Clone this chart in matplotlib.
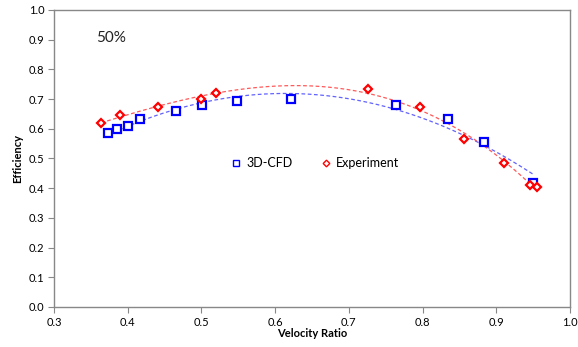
import numpy as np
import matplotlib
matplotlib.use("Agg")
import matplotlib.pyplot as plt

plt.rcParams['font.family'] = ['Lato', 'DejaVu Sans']

cfd_x = [0.373, 0.386, 0.400, 0.417, 0.465, 0.501, 0.548, 0.622, 0.764, 0.835, 0.883, 0.950]
cfd_y = [0.585, 0.599, 0.610, 0.633, 0.659, 0.681, 0.694, 0.699, 0.679, 0.633, 0.556, 0.417]
exp_x = [0.364, 0.390, 0.441, 0.500, 0.520, 0.726, 0.796, 0.856, 0.910, 0.946, 0.956]
exp_y = [0.621, 0.645, 0.672, 0.701, 0.722, 0.733, 0.672, 0.567, 0.484, 0.411, 0.405]
xticks = [0.3, 0.4, 0.5, 0.6, 0.7, 0.8, 0.9, 1.0]
yticks = [0.0, 0.1, 0.2, 0.3, 0.4, 0.5, 0.6, 0.7, 0.8, 0.9, 1.0]

fig = plt.figure(figsize=(5.78, 3.47), dpi=100)
ax = fig.add_axes([0.0934, 0.1153, 0.8926, 0.8559])

def trend(x, y, color, deg):
    c = np.polyfit(x, y, deg)
    xs = np.linspace(min(x), max(x), 200)
    ax.plot(xs, np.polyval(c, xs), color=color, lw=0.9, ls=(0, (3, 2)), alpha=0.8, zorder=2)

trend(cfd_x, cfd_y, '#3b3bff', 2)
trend(exp_x, exp_y, '#ff3030', 3)

ax.plot(cfd_x, cfd_y, ls='none', marker='s', ms=5.5, mfc='white', mec='#0000ff', mew=1.6,
        label='3D-CFD', zorder=3)
ax.plot(exp_x, exp_y, ls='none', marker='D', ms=4.5, mfc='white', mec='#ff0000', mew=1.6,
        label='Experiment', zorder=3)

ax.set_xlim(0.3, 1.0)
ax.set_ylim(0.0, 1.0)
ax.set_xticks(xticks)
ax.set_yticks(yticks)
ax.set_xticklabels([f'{v:.1f}' for v in xticks], fontsize=8)
ax.set_yticklabels([f'{v:.1f}' for v in yticks], fontsize=8)
ax.tick_params(direction='out', length=4, color='#888888', width=0.8, pad=3)
for s in ax.spines.values():
    s.set_color('#888888')
    s.set_linewidth(1.0)

ax.set_xlabel('Velocity Ratio', fontsize=8, fontweight='bold', labelpad=0)
ax.set_ylabel('Efficiency', fontsize=8, fontweight='bold', labelpad=4)

ax.text(0.357, 0.905, '50%', fontsize=11, color='#222222', va='center', ha='left')

leg = ax.legend(loc='center', bbox_to_anchor=(0.505, 0.485), ncol=2, frameon=False,
                fontsize=9, handletextpad=0.3, columnspacing=2.2, markerscale=0.75,
                handlelength=1.0)
for h in leg.legend_handles:
    h.set_markeredgewidth(1.0)

fig.savefig('out.png', dpi=100)
